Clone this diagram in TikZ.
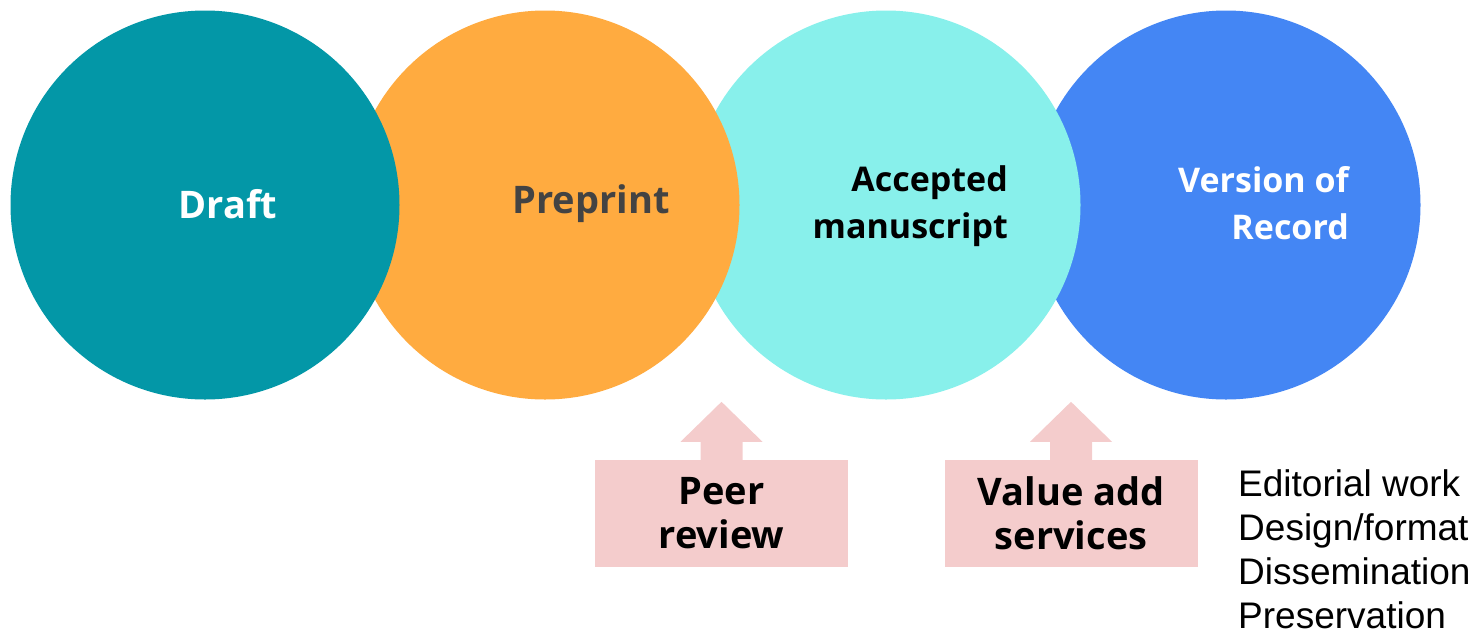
\documentclass[tikz,border=0pt]{standalone}
\usepackage{fontspec}
\setmainfont{Open Sans}
\newfontfamily\listfont{Liberation Sans}
\usetikzlibrary{positioning}

\definecolor{draftteal}{RGB}{3,151,167}
\definecolor{preprintorange}{RGB}{255,171,64}
\definecolor{acceptcyan}{RGB}{136,240,235}
\definecolor{recordblue}{RGB}{68,134,244}
\definecolor{boxpink}{RGB}{244,204,204}
\definecolor{darktext}{RGB}{67,67,67}

\tikzset{
  stage/.style={circle, minimum size=389pt, inner sep=0pt},
  stagetext/.style={font=\fontsize{38}{48}\selectfont\bfseries},
  twoline/.style={font=\fontsize{34}{47}\selectfont\bfseries, align=right, anchor=east, inner sep=0pt},
  addbox/.style={fill=boxpink, minimum width=253pt, minimum height=107pt, inner sep=0pt,
    align=center, font=\fontsize{38}{44}\selectfont\bfseries},
}

\begin{document}
\begin{tikzpicture}[x=1pt,y=-1pt]
\useasboundingbox (0,0) rectangle (1474,633);
% circles, last one at the bottom
\node[stage, fill=recordblue] (record) at (1226,205) {};
\node[stage, fill=acceptcyan] (accepted) at (886,205) {};
\node[stage, fill=preprintorange] (preprint) at (545,205) {};
\node[stage, fill=draftteal] (draft) at (205,205) {};
\node[stagetext, text=white] (drafttxt) at (228,204) {Draft};
\node[stagetext, text=darktext] (preprinttxt) at (591,204) {Preprint};
\node[twoline] (acceptedtxt) at (1008,206.5) {Accepted\\manuscript};
\node[twoline, text=white] (recordtxt) at (1349,203) {Version of\\Record};
% boxes below
\node[addbox] (peer) at (721.5,513.5) {Peer\\review};
\node[addbox] (value) at (1071,513.5) {Value add\\services};
\foreach \b in {peer,value}
  \fill[boxpink] ([xshift=-21pt]\b.north) -- ++(0,-18) -- ++(-20,0) -- ++(41,-40)
    -- ++(41,40) -- ++(-20,0) -- ++(0,18) -- cycle;
\node[anchor=north west, inner sep=0pt, align=left, font=\listfont\fontsize{37}{44}\selectfont]
  (tasks) at (1238,469) {Editorial work\\Design/format\\Dissemination\\Preservation};
\end{tikzpicture}
\end{document}
